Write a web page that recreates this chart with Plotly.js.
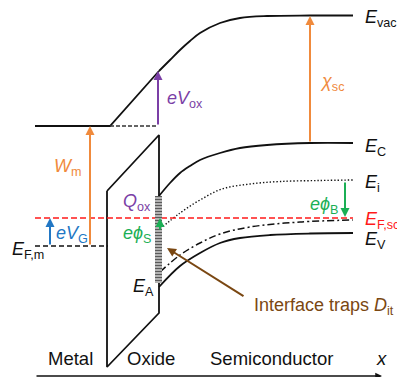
<!DOCTYPE html>
<html><head><meta charset="utf-8">
<script src="https://cdn.plot.ly/plotly-3.0.1.min.js"></script>
<style>html,body{margin:0;padding:0;background:#fff}</style>
</head><body><div id="chart" style="width:397px;height:377px"></div>
<script>
// Band diagram geometry (diagram units: x to the right, energy drawn downward on screen)
const vacMetalOxX = [35, 110, 159];
const vacMetalOxY = [126, 126, 71];
const vacScX = [159, 170, 180, 190, 200, 220, 240, 267, 310, 353];
const vacScY = [71, 60, 50, 41, 33, 23, 18, 16, 15.5, 15.5];
const ecScX = [159, 170, 180, 190, 200, 220, 240, 267, 310, 353];
const ecScY = [196, 183, 173, 166, 160, 153, 148, 145, 143, 143];
const eiX = [160, 180, 200, 222, 250, 280, 320, 353];
const eiY = [229, 213, 200, 189, 184, 181.5, 180.5, 180];
const eaX = [160, 180, 200, 220, 250, 300, 353];
const eaY = [272, 255, 243, 234, 227, 222, 220];
const evX = [159, 180, 200, 220, 240, 270, 310, 353];
const evY = [287, 266, 253, 243, 238, 235, 233.5, 233];
const oxideX = [107, 159, 159, 107, 107];
const oxideY = [191, 135, 313, 367, 191];
const vacDashX = [110, 158];
const vacDashY = [126, 126];
const efmX = [35, 108];
const efmY = [246, 246];
const efscX = [35, 353];
const efscY = [218, 218];
const trapX = [155, 162, 162, 155, 155];
const trapY = [196, 196, 283, 283, 196];

const F = 'Liberation Sans, Arial, Helvetica, sans-serif';
const BLACK = '#111';
const ORANGE = '#F08A3C', PURPLE = '#7B3FA6', BLUE = '#2277C4', GREEN = '#1BAF55', RED = '#FF1A1A', BROWN = '#7A4712';

const traces = [
  {x: vacMetalOxX, y: vacMetalOxY, mode: 'lines', line: {color: BLACK, width: 1.8}},
  {x: vacScX, y: vacScY, mode: 'lines', line: {color: BLACK, width: 1.8, shape: 'spline'}},
  {x: ecScX, y: ecScY, mode: 'lines', line: {color: BLACK, width: 1.8, shape: 'spline'}},
  {x: eiX, y: eiY, mode: 'lines', line: {color: BLACK, width: 1.4, dash: '1.4px,2px', shape: 'spline'}},
  {x: eaX, y: eaY, mode: 'lines', line: {color: BLACK, width: 1.5, dash: '7px,3px,2px,3px', shape: 'spline'}},
  {x: evX, y: evY, mode: 'lines', line: {color: BLACK, width: 1.8, shape: 'spline'}},
  {x: oxideX, y: oxideY, mode: 'lines', line: {color: BLACK, width: 1.8}},
  {x: vacDashX, y: vacDashY, mode: 'lines', line: {color: '#333', width: 1.5, dash: '4px,2px'}},
  {x: efmX, y: efmY, mode: 'lines', line: {color: BLACK, width: 1.5, dash: '5px,3px'}},
  {x: efscX, y: efscY, mode: 'lines', line: {color: RED, width: 1.5, dash: '6px,3px'}},
  {x: trapX, y: trapY, mode: 'lines', fill: 'toself', fillcolor: '#bbb', line: {width: 0},
   fillpattern: {shape: '-', fgcolor: '#5a5a5a', bgcolor: '#c4c4c4', size: 3, solidity: 0.45}}
];

function arrow(x0, y0, x1, y1, color, w) {
  return {x: x1, y: y1, ax: x0, ay: y0, xref: 'x', yref: 'y', axref: 'x', ayref: 'y',
    showarrow: true, arrowhead: 2, arrowsize: 0.9, arrowwidth: w || 2, arrowcolor: color, text: ''};
}
function label(x, y, text, color, size, xanchor) {
  return {x: x, y: y, xref: 'x', yref: 'y', text: text, showarrow: false,
    xanchor: xanchor || 'left', yanchor: 'middle', font: {family: F, size: size || 18, color: color || BLACK}};
}

const annotations = [
  arrow(158, 126, 158, 71, PURPLE),
  arrow(90, 246, 90, 126, ORANGE),
  arrow(310, 143, 310, 16, ORANGE),
  arrow(50, 246, 50, 218, BLUE),
  arrow(160, 231, 160, 218, GREEN),
  arrow(345, 181, 345, 217, GREEN),
  arrow(245, 297, 167, 248, BROWN),
  arrow(35, 376, 382, 376, BLACK, 1.5),
  label(363, 18, '<i>E</i><sub>vac</sub>'),
  label(363, 147, '<i>E</i><sub>C</sub>'),
  label(363, 183, '<i>E</i><sub>i</sub>'),
  label(363, 220, '<i>E</i><sub>F,sc</sub>', RED),
  label(363, 240, '<i>E</i><sub>V</sub>'),
  label(46, 250, '<i>E</i><sub>F,m</sub>', BLACK, 18, 'right'),
  label(165, 99, '<i>eV</i><sub>ox</sub>', PURPLE),
  label(318, 82, '<i>χ</i><sub>sc</sub>', ORANGE),
  label(84, 167, '<i>W</i><sub>m</sub>', ORANGE, 18, 'right'),
  label(121, 202, '<i>Q</i><sub>ox</sub>', PURPLE),
  label(121, 234, '<i>eϕ</i><sub>S</sub>', GREEN),
  label(54, 234, '<i>eV</i><sub>G</sub>', BLUE),
  label(308, 205, '<i>eϕ</i><sub>B</sub>', GREEN),
  label(131, 287, '<i>E</i><sub>A</sub>'),
  label(252, 306, 'Interface traps <i>D</i><sub>it</sub>', BROWN),
  label(70, 358, 'Metal', BLACK, 18.5, 'center'),
  label(151, 358, 'Oxide', BLACK, 18.5, 'center'),
  label(271, 358, 'Semiconductor', BLACK, 18.5, 'center'),
  label(381, 358, '<i>x</i>', BLACK, 18.5, 'center')
];

const layout = {
  width: 397, height: 377, margin: {l: 0, r: 0, t: 0, b: 0},
  paper_bgcolor: '#fff', plot_bgcolor: '#fff', showlegend: false,
  xaxis: {range: [0, 397], visible: false, fixedrange: true},
  yaxis: {range: [377, 0], visible: false, fixedrange: true},
  annotations: annotations
};
Plotly.newPlot('chart', traces, layout, {displayModeBar: false, staticPlot: true});
</script></body></html>
